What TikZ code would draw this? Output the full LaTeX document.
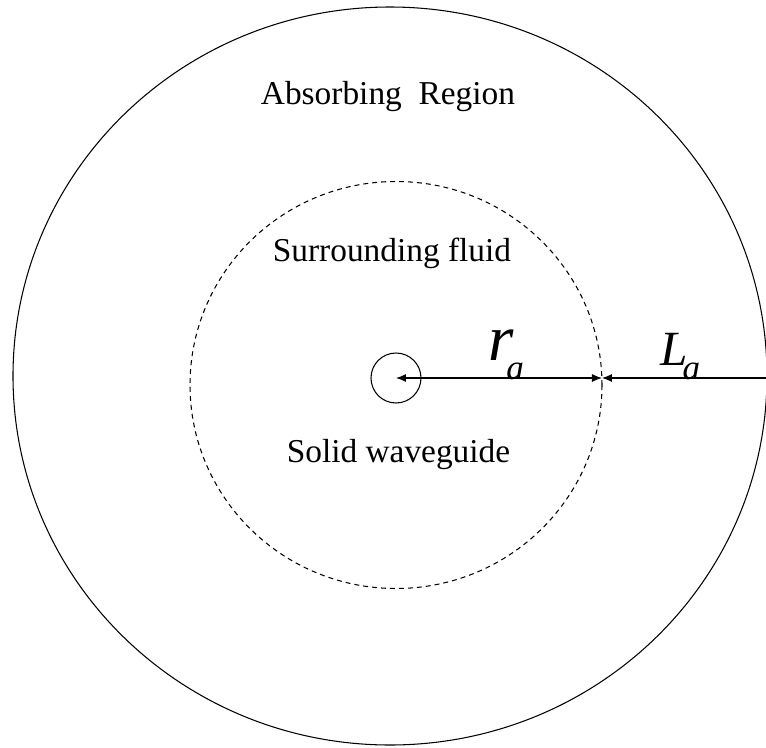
\documentclass[tikz,border=0pt]{standalone}
\usepackage{fontspec}
\setmainfont{Liberation Serif}
\usepackage{tikz}
\usetikzlibrary{shapes.geometric, arrows.meta, positioning, calc}

\begin{document}
\begin{tikzpicture}[
    region/.style={ellipse, draw=black, line width=0.6pt, inner sep=0pt, outer sep=0pt},
    core/.style={circle, draw=black, line width=0.6pt, minimum size=1cm, inner sep=0pt},
    dim/.style={line width=0.6pt, black},
    lbl/.style={font=\fontsize{19}{22}\selectfont}
]
\useasboundingbox (-7.92,-7.38) rectangle (7.40,7.56);

% Regions
\node[region, minimum width=15.08cm, minimum height=14.76cm] (absorb) at (-0.12, 0.04) {};
\node[region, dash pattern=on 2.8pt off 2.3pt, minimum width=8.24cm, minimum height=8.14cm] (fluid) at (0, -0.14) {};
\node[core] (guide) at (0, 0) {};

% Labels
\node[lbl] (abslbl) at (-0.16, 5.62) {Absorbing~~Region};
\node[lbl] (fluidlbl) at (-0.08, 2.5) {Surrounding fluid};
\node[lbl] (guidelbl) at (0.05, -1.54) {Solid waveguide};

% Dimensions
\coordinate (rim) at (fluid.east |- guide);
\coordinate (edge) at (absorb.east |- guide);
\draw[dim, {Latex[length=2mm, width=1.6mm]}-{Latex[length=2mm, width=1.6mm]}] (guide.center) -- (rim);
\draw[dim, {Latex[length=2mm, width=1.6mm]}-] (rim) -- (edge);

\node[anchor=base west, inner sep=0pt] (ra) at (1.84, 0.36)
    {\fontsize{37}{37}\selectfont\textit{r}\hspace{-0.15cm}\raisebox{-0.38cm}{\fontsize{20}{20}\selectfont\textit{a}}};
\node[anchor=base west, inner sep=0pt] (la) at (5.28, 0.26)
    {\fontsize{28}{28}\selectfont\textit{L}\hspace{-0.1cm}\raisebox{-0.28cm}{\fontsize{20}{20}\selectfont\textit{a}}};
\end{tikzpicture}
\end{document}
